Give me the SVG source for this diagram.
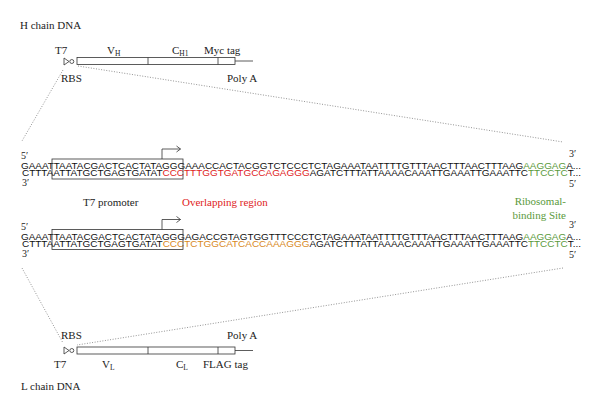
<svg xmlns="http://www.w3.org/2000/svg" width="600" height="415" viewBox="0 0 600 415">
<style>
.lab{font-family:"Liberation Serif","Times New Roman",serif;font-size:11px;fill:#222}
.pr{font-family:"Liberation Serif","Times New Roman",serif;font-size:10px;fill:#222}
.seq{font-family:"Liberation Sans",Arial,sans-serif;font-size:8.8px;fill:#111}
.sub{font-size:7.5px}
.red{fill:#e0231c}
.org{fill:#d9891c}
.grn{fill:#5b9a3c}
.gl{fill:#5b9a3c}
.box{fill:none;stroke:#333;stroke-width:0.8}
.dot{fill:none;stroke:#888;stroke-width:0.9;stroke-dasharray:1 1.6}
.ln{fill:none;stroke:#333;stroke-width:0.8}
</style>
<rect width="600" height="415" fill="#fff"/>

<g id="connectors">
<line class="dot" x1="63" y1="70" x2="22" y2="141"/>
<line class="dot" x1="78" y1="66" x2="563" y2="142"/>
<line class="dot" x1="22" y1="268" x2="63" y2="343"/>
<line class="dot" x1="563" y1="268" x2="77" y2="345"/>
</g>

<g id="h-chain">
<text class="lab" x="20" y="29">H chain DNA</text>
<text class="lab" x="55" y="54">T7</text>
<text class="lab" x="107" y="54">V<tspan class="sub" dy="2">H</tspan></text>
<text class="lab" x="172" y="54">C<tspan class="sub" dy="2">H1</tspan></text>
<text class="lab" x="204" y="54">Myc tag</text>
<polygon class="box" points="64,58 64,65 69,61.5"/>
<circle class="box" cx="71.8" cy="61.5" r="2"/>
<rect class="box" x="77" y="57.5" width="158" height="7"/>
<line class="ln" x1="148" y1="57.5" x2="148" y2="64.5"/>
<line class="ln" x1="218" y1="57.5" x2="218" y2="64.5"/>
<line class="ln" x1="235" y1="61" x2="253" y2="61"/>
<text class="lab" x="61" y="82">RBS</text>
<text class="lab" x="227" y="82">Poly A</text>
</g>

<g id="seq-h">
<text class="pr" x="21" y="159">5′</text>
<text class="seq" x="21" y="169" textLength="560" lengthAdjust="spacingAndGlyphs">GAAATTAATACGACTCACTATAGGGAAACCACTACGGTCTCCCTCTAGAAATAATTTTGTTTAACTTTAACTTTAAG<tspan class="grn">AAGGAG</tspan>A...</text>
<text class="seq" x="22" y="176" textLength="559" lengthAdjust="spacingAndGlyphs">CTTTAATTATGCTGAGTGATAT<tspan class="red">CCCTTTGGTGATGCCAGAGGG</tspan>AGATCTTTATTAAAACAAATTGAAATTGAAATTC<tspan class="grn">TTCCTC</tspan>T...</text>
<text class="pr" x="22" y="186">3′</text>
<text class="pr" x="569" y="157">3′</text>
<text class="pr" x="569" y="187">5′</text>
<rect class="box" x="52" y="159" width="131" height="20"/>
<path class="ln" d="M162,159 V149 H180.5 M176.5,146 L180.5,149 L176.5,152"/>
</g>

<g id="labels-mid">
<text class="lab" x="83" y="206">T7 promoter</text>
<text class="lab red" x="182" y="206">Overlapping region</text>
<text class="lab gl" x="566" y="205" text-anchor="end">Ribosomal-</text>
<text class="lab gl" x="566" y="219" text-anchor="end">binding Site</text>
</g>

<g id="seq-l">
<text class="pr" x="21" y="229.5">5′</text>
<text class="seq" x="21" y="239.5" textLength="560" lengthAdjust="spacingAndGlyphs">GAAATTAATACGACTCACTATAGGGAGACCGTAGTGGTTTCCCTCTAGAAATAATTTTGTTTAACTTTAACTTTAAG<tspan class="grn">AAGGAG</tspan>A...</text>
<text class="seq" x="22" y="246.5" textLength="559" lengthAdjust="spacingAndGlyphs">CTTTAATTATGCTGAGTGATAT<tspan class="org">CCCTCTGGCATCACCAAAGGG</tspan>AGATCTTTATTAAAACAAATTGAAATTGAAATTC<tspan class="grn">TTCCTC</tspan>T...</text>
<text class="pr" x="22" y="256.5">3′</text>
<text class="pr" x="569" y="227.5">3′</text>
<text class="pr" x="569" y="257.5">5′</text>
<rect class="box" x="52" y="229.5" width="131" height="20"/>
<path class="ln" d="M162,229.5 V219.5 H180.5 M176.5,216.5 L180.5,219.5 L176.5,222.5"/>
</g>

<g id="l-chain">
<text class="lab" x="61" y="339">RBS</text>
<text class="lab" x="227" y="339">Poly A</text>
<polygon class="box" points="64,347 64,354 69,350.5"/>
<circle class="box" cx="71.8" cy="350.5" r="2"/>
<rect class="box" x="77" y="347" width="158" height="7"/>
<line class="ln" x1="148" y1="347" x2="148" y2="354"/>
<line class="ln" x1="218" y1="347" x2="218" y2="354"/>
<line class="ln" x1="235" y1="350.5" x2="253" y2="350.5"/>
<text class="lab" x="54" y="368">T7</text>
<text class="lab" x="102" y="368">V<tspan class="sub" dy="2">L</tspan></text>
<text class="lab" x="176" y="368">C<tspan class="sub" dy="2">L</tspan></text>
<text class="lab" x="203" y="368">FLAG tag</text>
<text class="lab" x="21" y="390">L chain DNA</text>
</g>
</svg>
